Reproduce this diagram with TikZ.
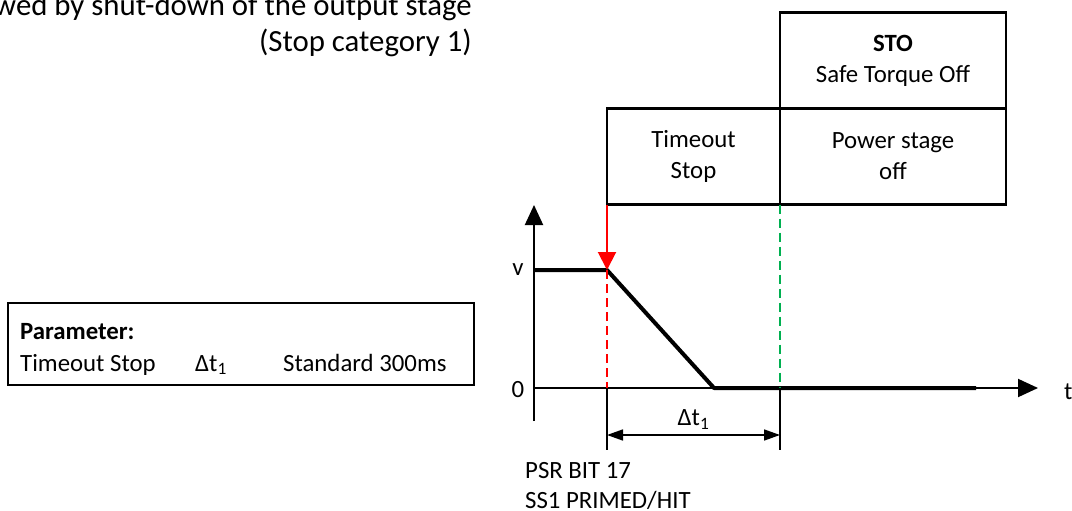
\documentclass[tikz,border=0pt]{standalone}
\usepackage{fontspec}
\setmainfont{Carlito}
\usetikzlibrary{arrows.meta, positioning}
\definecolor{stopred}{RGB}{255,0,0}
\definecolor{offgreen}{RGB}{0,176,80}

\begin{document}
\begin{tikzpicture}[
  x=1pt, y=-1pt,
  every node/.style={font=\fontsize{24.8}{31}\selectfont, inner sep=0pt},
  box/.style={draw, line width=2.2pt, outer sep=0pt, minimum width=226pt,
              minimum height=96pt, align=center},
  axis/.style={line width=2pt, -{Triangle[length=20pt, width=18pt]}},
  course/.style={line width=4pt, line join=round},
  guide/.style={line width=2pt, dash pattern=on 9pt off 5pt},
  dim/.style={line width=1.6pt, {Triangle[length=16pt, width=11pt]}-{Triangle[length=16pt, width=11pt]}},
]
  \useasboundingbox (0,0) rectangle (1072,511);

  % heading
  \node[anchor=base east, font=\fontsize{30.8}{36}\selectfont] (head) at (472,16)
       {wed by shut-down of the output stage};
  \node[anchor=base east, font=\fontsize{30.8}{36}\selectfont] (cat) at (472,52)
       {(Stop category 1)};

  % state boxes
  \node[box] (sto) at (893,60.5) {\textbf{STO}\\Safe Torque Off};
  \node[box, below=0pt of sto] (off) {Power stage\\off};
  \node[box, minimum width=173pt, left=0pt of off] (tos) {Timeout\\Stop};

  % parameter box
  \node[draw, line width=2.2pt, minimum width=466pt, minimum height=82pt] (param) at (241,344) {};
  \node[anchor=base west, font=\fontsize{24.8}{31}\selectfont\bfseries] (ptitle) at (20,339) {Parameter:};
  \node[anchor=base west] (pname) at (20,371) {Timeout Stop};
  \node[anchor=base west] (psym) at (195,371) {Δt\textsubscript{1}};
  \node[anchor=base west] (pval) at (283,371) {Standard 300ms};

  % axes
  \coordinate (origin) at (534,388);
  \coordinate (ybot) at (534,421);
  \coordinate (ytop) at (534,205);
  \coordinate (xend) at (1038,388);
  \draw[axis] (ybot) -- (ytop);
  \draw[axis] (origin) -- (xend);
  \node (vlab) at (518,270) {v};
  \node (zero) at (518,390) {0};
  \node[anchor=west] (tlab) at (1064,392) {t};

  % speed course
  \coordinate (stop) at (607,270);
  \coordinate (halt) at (714,388);
  \draw[course] (vlab.east -| origin) -- (stop) -- (halt) -- (976,388);

  % trigger and time marks
  \draw[stopred, line width=2pt, -{Triangle[length=18pt, width=18pt]}] (tos.south west) -- (stop);
  \draw[guide, stopred] (stop) -- (stop |- origin);
  \draw[guide, offgreen] (tos.south east) -- (tos.south east |- origin);
  \coordinate (m1) at (607,450);
  \coordinate (m2) at (780,450);
  \draw[line width=1.6pt] (stop |- origin) -- (m1);
  \draw[line width=1.6pt] (tos.south east |- origin) -- (m2);
  \draw[dim] (607,435) -- node[above=5pt] (dt) {Δt\textsubscript{1}} (780,435);

  \node[anchor=north west, align=left, font=\fontsize{24.8}{30}\selectfont] (psr) at (525,462) {PSR BIT 17\\SS1 PRIMED/HIT};
\end{tikzpicture}
\end{document}
